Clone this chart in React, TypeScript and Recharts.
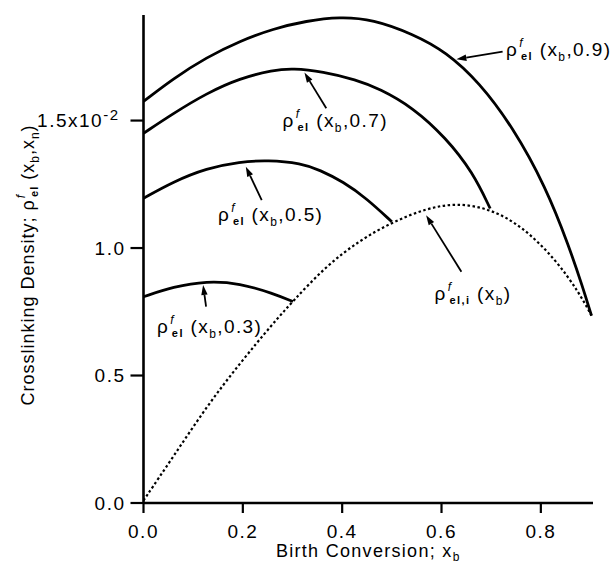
import React from 'react';
import { LineChart, Line, XAxis, YAxis, ReferenceLine, ReferenceDot } from 'recharts';

// ---- axis ticks ----
const xTicks = [0, 0.2, 0.4, 0.6, 0.8];
const yTicks = [0, 0.5, 1.0, 1.5];

// ---- series: rho_el^f(x_b, 0.9) ----
const c09X = [0, 0.06, 0.127, 0.194, 0.261, 0.328, 0.395, 0.462, 0.542, 0.609, 0.676, 0.743, 0.81, 0.857, 0.884, 0.902];
const c09Y = [1.575, 1.665, 1.748, 1.812, 1.86, 1.891, 1.907, 1.897, 1.84, 1.77, 1.65, 1.476, 1.24, 1.005, 0.848, 0.735];

// ---- series: rho_el^f(x_b, 0.7) ----
const c07X = [0, 0.06, 0.127, 0.194, 0.261, 0.3, 0.361, 0.428, 0.475, 0.542, 0.609, 0.663, 0.698];
const c07Y = [1.45, 1.528, 1.607, 1.666, 1.698, 1.705, 1.692, 1.66, 1.625, 1.552, 1.432, 1.297, 1.155];

// ---- series: rho_el^f(x_b, 0.5) ----
const c05X = [0, 0.06, 0.127, 0.194, 0.25, 0.318, 0.355, 0.402, 0.449, 0.5];
const c05Y = [1.195, 1.26, 1.313, 1.338, 1.345, 1.332, 1.306, 1.26, 1.195, 1.103];

// ---- series: rho_el^f(x_b, 0.3) ----
const c03X = [0, 0.06, 0.127, 0.194, 0.261, 0.301];
const c03Y = [0.809, 0.848, 0.871, 0.862, 0.822, 0.79];

// ---- series: rho_el,i^f(x_b) (dotted) ----
const ciX = [0, 0.06, 0.127, 0.194, 0.261, 0.301, 0.368, 0.435, 0.502, 0.569, 0.63, 0.697, 0.763, 0.83, 0.877, 0.902];
const ciY = [0.01, 0.182, 0.378, 0.548, 0.705, 0.792, 0.93, 1.03, 1.103, 1.155, 1.177, 1.155, 1.085, 0.955, 0.825, 0.735];

// ---- annotations (data coordinates) ----
const labelArgs = ['0.9', '0.7', '0.5', '0.3', 'i'];
const labelX = [0.73, 0.28, 0.15, 0.027, 0.586];
const labelY = [1.753, 1.473, 1.106, 0.667, 0.796];
const arrowFromX = [0.723, 0.368, 0.238, 0.126, 0.64];
const arrowFromY = [1.77, 1.548, 1.188, 0.77, 0.907];
const arrowToX = [0.63, 0.324, 0.206, 0.12, 0.569];
const arrowToY = [1.74, 1.688, 1.319, 0.855, 1.129];

const toPts = (xs: number[], ys: number[]) => xs.map((x, i) => ({ x, y: ys[i] }));

const FONT = '"Liberation Sans", Arial, Helvetica, sans-serif';

function RhoLabel({ cx, cy, arg }: any) {
  if (cx == null || cy == null) return null;
  const isIdeal = arg === 'i';
  return (
    <text x={cx} y={cy} fontSize={19} fill="#000" fontFamily={FONT} letterSpacing={1.4}>
      <tspan>ρ</tspan>
      <tspan fontSize={12} dy={-9} dx={1} fontStyle="italic">f</tspan>
      <tspan fontSize={11} dy={13} dx={-3} fontWeight="bold">{isIdeal ? 'el,i' : 'el'}</tspan>
      <tspan dy={-4}>{' (x'}</tspan>
      <tspan fontSize={12} dy={5}>b</tspan>
      <tspan dy={-5}>{isIdeal ? ')' : ',' + arg + ')'}</tspan>
    </text>
  );
}

function Arrow(props: any) {
  const { x1, y1, x2, y2 } = props;
  if ([x1, y1, x2, y2].some((v) => v == null || isNaN(v))) return null;
  const dx = x2 - x1;
  const dy = y2 - y1;
  const len = Math.sqrt(dx * dx + dy * dy) || 1;
  const ux = dx / len;
  const uy = dy / len;
  const hl = 10;
  const hw = 3.2;
  const bx = x2 - ux * hl;
  const by = y2 - uy * hl;
  const p1 = `${x2},${y2}`;
  const p2 = `${bx - uy * hw},${by + ux * hw}`;
  const p3 = `${bx + uy * hw},${by - ux * hw}`;
  return (
    <g>
      <line x1={x1} y1={y1} x2={bx} y2={by} stroke="#000" strokeWidth={1.8} />
      <polygon points={`${p1} ${p2} ${p3}`} fill="#000" />
    </g>
  );
}

function XTick(props: any) {
  const { x, y, payload } = props;
  return (
    <text x={x} y={y} dy="0.71em" textAnchor="middle" fontSize={19} fontFamily={FONT} letterSpacing={1.5} fill="#000">
      {payload.value.toFixed(1)}
    </text>
  );
}

function YTick(props: any) {
  const { x, y, payload } = props;
  const v = payload.value;
  if (v === 1.5) {
    return (
      <text x={x - 6} y={y} dy="0.36em" textAnchor="end" fontSize={19} fontFamily={FONT} letterSpacing={1.5} fill="#000">
        <tspan>1.5x10</tspan>
        <tspan fontSize={15} dy={-7}>-2</tspan>
      </text>
    );
  }
  return (
    <text x={x} y={y} dy="0.36em" textAnchor="end" fontSize={19} fontFamily={FONT} letterSpacing={1.5} fill="#000">
      {v.toFixed(1)}
    </text>
  );
}

function YLabel(props: any) {
  const vb = props.viewBox || { x: 83.5, y: 15, width: 60, height: 488 };
  const cx = vb.x - 50;
  const cy = vb.y + vb.height / 2 + 6;
  return (
    <text
      x={cx}
      y={cy}
      textAnchor="middle"
      transform={`rotate(-90, ${cx}, ${cy})`}
      fontSize={18}
      fontFamily={FONT}
      letterSpacing={1}
      fill="#000"
    >
      <tspan>{'Crosslinking  Density;  ρ'}</tspan>
      <tspan fontSize={12} dy={-9} dx={1} fontStyle="italic">f</tspan>
      <tspan fontSize={11} dy={13} dx={-3} fontWeight="bold">el</tspan>
      <tspan dy={-4}>{' (x'}</tspan>
      <tspan fontSize={12} dy={5}>b</tspan>
      <tspan dy={-5}>{',x'}</tspan>
      <tspan fontSize={12} dy={5}>n</tspan>
      <tspan dy={-5}>{')'}</tspan>
    </text>
  );
}

function XLabel(props: any) {
  const vb = props.viewBox || { x: 143.5, y: 503, width: 449.5, height: 60 };
  const cx = vb.x + vb.width / 2;
  const cy = vb.y + 54;
  return (
    <text x={cx} y={cy} textAnchor="middle" fontSize={18} fontFamily={FONT} letterSpacing={1.3} fill="#000">
      <tspan>{'Birth  Conversion;  x'}</tspan>
      <tspan fontSize={12} dy={4}>b</tspan>
    </text>
  );
}

export default function App() {
  const solid = { stroke: '#000', strokeWidth: 2.8, dot: false, isAnimationActive: false, type: 'basis' as const };
  return (
    <div style={{ position: 'absolute', left: 0, top: 0, width: 610, height: 571, background: '#fff' }}>
      <LineChart
        width={610}
        height={571}
        margin={{ top: 15, right: 17, bottom: 8, left: 83.5 }}
        style={{ fontFamily: FONT }}
      >
        <XAxis
          type="number"
          dataKey="x"
          domain={[0, 0.905]}
          ticks={xTicks}
          allowDataOverflow
          height={60}
          tickSize={10}
          tickMargin={12}
          axisLine={{ stroke: '#000', strokeWidth: 2.6 }}
          tickLine={{ stroke: '#000', strokeWidth: 2.2 }}
          tick={<XTick />}
          label={{ content: (p: any) => <XLabel {...p} /> }}
        />
        <YAxis
          type="number"
          dataKey="y"
          domain={[0, 1.914]}
          ticks={yTicks}
          allowDataOverflow
          width={60}
          tickSize={13}
          tickMargin={5}
          axisLine={{ stroke: '#000', strokeWidth: 2.6 }}
          tickLine={{ stroke: '#000', strokeWidth: 2.2 }}
          tick={<YTick />}
          label={{ content: (p: any) => <YLabel {...p} /> }}
        />
        <Line data={toPts(ciX, ciY)} dataKey="y" type="basis" stroke="#000" strokeWidth={2.2} strokeDasharray="2.5 2.5" dot={false} isAnimationActive={false} />
        <Line data={toPts(c09X, c09Y)} dataKey="y" {...solid} />
        <Line data={toPts(c07X, c07Y)} dataKey="y" {...solid} />
        <Line data={toPts(c05X, c05Y)} dataKey="y" {...solid} />
        <Line data={toPts(c03X, c03Y)} dataKey="y" {...solid} />
        {labelArgs.map((a, i) => (
          <ReferenceLine
            key={'ar' + i}
            segment={[
              { x: arrowFromX[i], y: arrowFromY[i] },
              { x: arrowToX[i], y: arrowToY[i] },
            ]}
            ifOverflow="visible"
            shape={(p: any) => <Arrow {...p} />}
          />
        ))}
        {labelArgs.map((a, i) => (
          <ReferenceDot
            key={'lb' + i}
            x={labelX[i]}
            y={labelY[i]}
            r={0}
            ifOverflow="visible"
            shape={(p: any) => <RhoLabel cx={p.cx} cy={p.cy} arg={a} />}
          />
        ))}
      </LineChart>
    </div>
  );
}
